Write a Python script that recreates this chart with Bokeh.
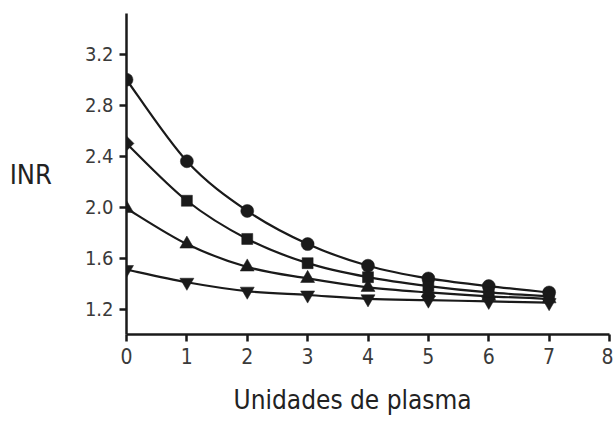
import numpy as np
from bokeh.plotting import figure
from bokeh.models import Range1d, FixedTicker, ColumnDataSource, NumeralTickFormatter, Title
from bokeh.embed import file_html
from bokeh.resources import INLINE

# ---- data ----
units = [0, 1, 2, 3, 4, 5, 6, 7]
inr_circle = [3.00, 2.36, 1.97, 1.71, 1.54, 1.44, 1.38, 1.33]
inr_square = [2.50, 2.05, 1.75, 1.56, 1.45, 1.38, 1.33, 1.30]
inr_triangle = [1.99, 1.71, 1.53, 1.44, 1.37, 1.33, 1.30, 1.28]
inr_inverted = [1.51, 1.41, 1.34, 1.31, 1.28, 1.27, 1.26, 1.25]
x_ticks = [0, 1, 2, 3, 4, 5, 6, 7, 8]
y_ticks = [1.2, 1.6, 2.0, 2.4, 2.8, 3.2]

FONT = "'Liberation Sans Narrow', 'DejaVu Sans Condensed', 'Roboto Condensed', 'Open Sans Condensed', Roboto"
INK = "#1a1a1a"

p = figure(width=613, height=431, output_backend="svg", toolbar_location=None,
           x_range=Range1d(0, 8), y_range=Range1d(1.0, 3.52),
           min_border_left=126, min_border_right=4, min_border_top=13,
           min_border_bottom=97)
p.outline_line_color = None
p.grid.visible = False
p.background_fill_color = "white"
p.border_fill_color = "white"


def smooth_segments(xs, ys):
    xs = np.asarray(xs, float)
    ys = np.asarray(ys, float)
    n = len(xs)
    px = np.concatenate([[xs[0]], xs, [xs[-1]]])
    py = np.concatenate([[ys[0]], ys, [ys[-1]]])
    x0, y0, x1, y1, cx0, cy0, cx1, cy1 = [], [], [], [], [], [], [], []
    for i in range(n - 1):
        a, b, c, d = i, i + 1, i + 2, i + 3
        x0.append(px[b]); y0.append(py[b])
        x1.append(px[c]); y1.append(py[c])
        cx0.append(px[b] + (px[c] - px[a]) / 6); cy0.append(py[b] + (py[c] - py[a]) / 6)
        cx1.append(px[c] - (px[d] - px[b]) / 6); cy1.append(py[c] - (py[d] - py[b]) / 6)
    return dict(x0=x0, y0=y0, x1=x1, y1=y1, cx0=cx0, cy0=cy0, cx1=cx1, cy1=cy1)


series = [
    (inr_circle, ["circle"] * 8, [0] * 8, [13] * 8),
    (inr_square, ["square"] * 8, [np.pi / 4] + [0] * 7, [10.5] + [11] * 7),
    (inr_triangle, ["triangle"] * 8, [0] * 8, [14] * 8),
    (inr_inverted, ["inverted_triangle"] * 8, [0] * 8, [14] * 8),
]

for ys, markers, angles, sizes in series:
    seg = ColumnDataSource(smooth_segments(units, ys))
    p.bezier(x0="x0", y0="y0", x1="x1", y1="y1", cx0="cx0", cy0="cy0",
             cx1="cx1", cy1="cy1", source=seg, line_color=INK, line_width=2.2)
    src = ColumnDataSource(dict(x=units, y=ys, m=markers, a=angles, s=sizes))
    p.scatter(x="x", y="y", marker="m", angle="a", size="s", source=src,
              fill_color=INK, line_color=INK, line_width=0.5)

for ax in (p.xaxis, p.yaxis):
    ax.axis_line_color = INK
    ax.axis_line_width = 2.5
    ax.major_tick_line_color = INK
    ax.major_tick_line_width = 2.5
    ax.major_tick_out = 7
    ax.major_tick_in = 0
    ax.minor_tick_line_color = None
    ax.major_label_text_font = FONT
    ax.major_label_text_color = "#3a3a3a"
    ax.axis_label_text_font = FONT
    ax.axis_label_text_font_style = "normal"
    ax.axis_label_text_color = "#222222"

p.xaxis.ticker = FixedTicker(ticks=x_ticks)
p.yaxis.ticker = FixedTicker(ticks=y_ticks)
p.yaxis.formatter = NumeralTickFormatter(format="0.0")
p.xaxis.major_label_text_font_size = "21px"
p.yaxis.major_label_text_font_size = "20px"
p.xaxis.major_label_standoff = 6
p.yaxis.major_label_standoff = 6

p.add_layout(Title(text="Unidades de plasma", align="left", offset=107,
                   text_font=FONT, text_font_size="26px", text_font_style="normal",
                   text_color="#222222", standoff=32), "below")

p.yaxis.axis_label = "INR"
p.yaxis.axis_label_orientation = "horizontal"
p.yaxis.axis_label_text_font_size = "27px"
p.yaxis.axis_label_standoff = 30

open("out.html", "w").write(file_html(p, INLINE))
